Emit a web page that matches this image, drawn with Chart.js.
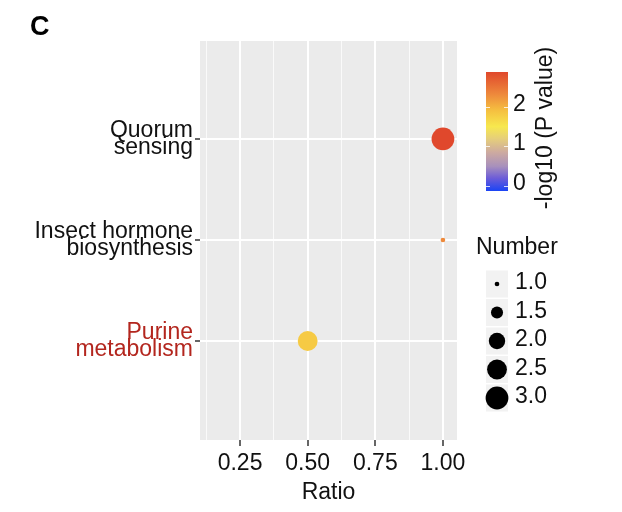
<!DOCTYPE html>
<html>
<head>
<meta charset="utf-8">
<script src="https://cdn.jsdelivr.net/npm/chart.js@4"></script>
<style>
  html, body { margin: 0; padding: 0; background: #fff; }
</style>
</head>
<body>
<canvas id="dot-chart" width="622" height="512"></canvas>
<script>
// pathways, top to bottom, and their row position on the y scale
const pathways = [['Quorum', 'sensing'], ['Insect hormone', 'biosynthesis'], ['Purine', 'metabolism']];
const pathwayRows = [3, 2, 1];
const ratio = [1.00, 1.00, 0.50];
const geneNumber = [3, 1, 2.5];
const logP = [2.87, 2.3, 1.8];

const ratioTicks = [0.25, 0.50, 0.75, 1.00];
const ratioMinor = [0.125, 0.375, 0.625, 0.875];
const pTicks = [0, 1, 2];
const numberBreaks = [1.0, 1.5, 2.0, 2.5, 3.0];

const FONT = "'Liberation Sans', Arial, sans-serif";
const FS = 23;
const INK = '#111';
const HIGHLIGHT = '#B3261E';

// colour ramp for -log10(P), blue -> yellow -> red
const pRange = [-0.12, 2.87];
const rampStops = [
  [-0.12, '#1A44F5'],
  [0.2, '#6C5CD8'],
  [0.5, '#A890BC'],
  [0.85, '#CDAAA0'],
  [1.2, '#E6CF7A'],
  [1.5, '#F7E84E'],
  [1.9, '#F5C040'],
  [2.3, '#EE8A3C'],
  [2.87, '#E0482C']
];

function hexToRgb(h) {
  const n = parseInt(h.slice(1), 16);
  return [(n >> 16) & 255, (n >> 8) & 255, n & 255];
}

function colorFor(v) {
  if (v <= rampStops[0][0]) return rampStops[0][1];
  for (let i = 1; i < rampStops.length; i++) {
    if (v <= rampStops[i][0]) {
      const [v0, c0] = rampStops[i - 1];
      const [v1, c1] = rampStops[i];
      const t = (v - v0) / (v1 - v0);
      const a = hexToRgb(c0), b = hexToRgb(c1);
      const m = a.map((x, k) => Math.round(x + (b[k] - x) * t));
      return `rgb(${m[0]},${m[1]},${m[2]})`;
    }
  }
  return rampStops[rampStops.length - 1][1];
}

// point radius from gene number (area scaling)
function sizeFor(n) {
  return Math.sqrt(5.5 + 62 * (n - 1));
}

const panelBg = {
  id: 'panelBg',
  beforeDraw(chart) {
    const {ctx, chartArea: a} = chart;
    ctx.save();
    ctx.fillStyle = '#EBEBEB';
    ctx.fillRect(a.left, a.top, a.right - a.left, a.bottom - a.top);
    ctx.restore();
  }
};

const sideLegends = {
  id: 'sideLegends',
  afterDraw(chart) {
    const ctx = chart.ctx;
    ctx.save();

    // panel tag
    ctx.fillStyle = '#000';
    ctx.font = `bold 27px ${FONT}`;
    ctx.textBaseline = 'alphabetic';
    ctx.textAlign = 'left';
    ctx.fillText('C', 30, 35);

    // colour bar
    const bx = 486, bw = 22, top = 72, bottom = 191;
    const yOf = v => bottom - (v - pRange[0]) / (pRange[1] - pRange[0]) * (bottom - top);
    const grad = ctx.createLinearGradient(0, bottom, 0, top);
    rampStops.forEach(([v, c]) => grad.addColorStop((v - pRange[0]) / (pRange[1] - pRange[0]), c));
    ctx.fillStyle = grad;
    ctx.fillRect(bx, top, bw, bottom - top);
    ctx.strokeStyle = 'rgba(255,255,255,0.8)';
    ctx.lineWidth = 1;
    ctx.font = `${FS}px ${FONT}`;
    ctx.fillStyle = INK;
    ctx.textBaseline = 'middle';
    pTicks.forEach(v => {
      const y = Math.round(yOf(v)) + 0.5;
      ctx.beginPath();
      ctx.moveTo(bx, y); ctx.lineTo(bx + 4, y);
      ctx.moveTo(bx + bw - 4, y); ctx.lineTo(bx + bw, y);
      ctx.stroke();
      ctx.fillText(String(v), 513, y - 3);
    });

    // colour bar title, rotated
    ctx.save();
    ctx.translate(546, 128);
    ctx.rotate(-Math.PI / 2);
    ctx.textAlign = 'center';
    ctx.fillText('-log10 (P value)', 0, 0);
    ctx.restore();

    // size legend
    ctx.textAlign = 'left';
    ctx.fillText('Number', 476, 248);
    numberBreaks.forEach((n, i) => {
      const cy = 284 + i * 28.5;
      ctx.fillStyle = '#F2F2F2';
      ctx.fillRect(bx, cy - 13.5, bw, 27);
      ctx.fillStyle = '#000';
      ctx.beginPath();
      ctx.arc(bx + bw / 2, cy, sizeFor(n), 0, Math.PI * 2);
      ctx.fill();
      ctx.fillStyle = INK;
      ctx.fillText(n.toFixed(1), 515, cy - 1);
    });

    ctx.restore();
  }
};

Chart.defaults.font.family = FONT;

new Chart(document.getElementById('dot-chart').getContext('2d'), {
  type: 'scatter',
  data: {
    datasets: [{
      data: ratio.map((r, i) => ({x: r, y: pathwayRows[i]})),
      pointRadius: c => sizeFor(geneNumber[c.dataIndex]),
      pointHoverRadius: c => sizeFor(geneNumber[c.dataIndex]),
      backgroundColor: c => colorFor(logP[c.dataIndex]),
      borderWidth: 0
    }]
  },
  options: {
    responsive: false,
    animation: false,
    layout: {padding: {top: 41, right: 165, left: 0, bottom: 0}},
    plugins: {legend: {display: false}, tooltip: {enabled: false}},
    scales: {
      x: {
        type: 'linear',
        min: 0.102,
        max: 1.052,
        afterBuildTicks: s => {
          s.ticks = [...ratioMinor, ...ratioTicks].sort((a, b) => a - b).map(v => ({value: v}));
        },
        afterFit: s => { s.height = 72; },
        border: {display: false},
        grid: {
          color: c => ratioTicks.includes(c.tick.value) ? '#FFFFFF' : 'rgba(255,255,255,0.75)',
          lineWidth: c => ratioTicks.includes(c.tick.value) ? 2 : 1,
          tickColor: c => ratioTicks.includes(c.tick.value) ? '#333' : 'rgba(0,0,0,0)',
          tickLength: 6,
          tickWidth: 1.5
        },
        ticks: {
          autoSkip: false,
          maxRotation: 0,
          padding: 4,
          color: INK,
          font: {size: FS},
          callback: v => ratioTicks.includes(v) ? v.toFixed(2) : ''
        },
        title: {
          display: true,
          text: 'Ratio',
          color: INK,
          font: {size: FS},
          padding: {top: 0, bottom: 6}
        }
      },
      y: {
        type: 'linear',
        min: 0.02,
        max: 3.97,
        afterBuildTicks: s => {
          s.ticks = pathwayRows.slice().sort((a, b) => a - b).map(v => ({value: v}));
        },
        afterFit: s => { s.width = 200; },
        border: {display: false},
        grid: {
          color: '#FFFFFF',
          lineWidth: 2,
          tickColor: '#333',
          tickLength: 5,
          tickWidth: 1.5
        },
        ticks: {
          autoSkip: false,
          padding: 2,
          color: c => c.tick.value === pathwayRows[2] ? HIGHLIGHT : INK,
          font: {size: FS, lineHeight: 0.72},
          callback: v => pathways[pathwayRows.indexOf(v)]
        }
      }
    }
  },
  plugins: [panelBg, sideLegends]
});
</script>
</body>
</html>
